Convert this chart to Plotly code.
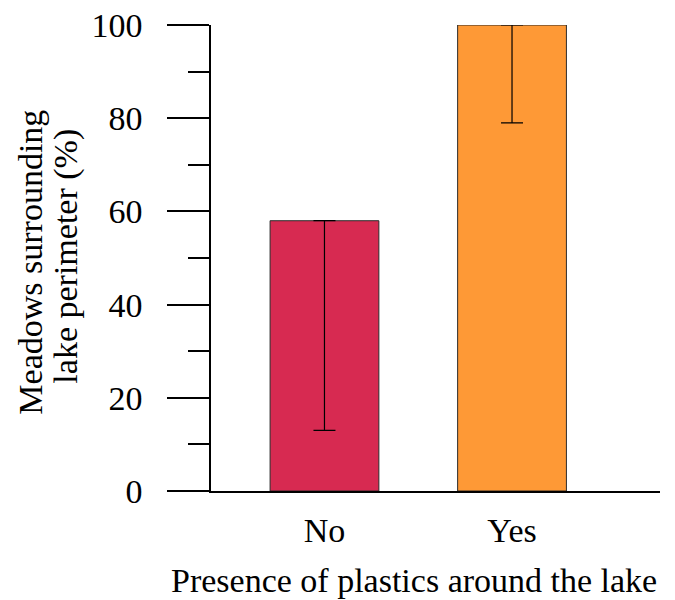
import plotly.graph_objects as go

categories = ["No", "Yes"]
values = [58, 100]
err_minus = [45, 21]
err_plus = [0, 0]
colors = ["#D72A51", "#FE9936"]
x_title = "Presence of plastics around the lake"
y_title_lines = ["Meadows surrounding", "lake perimeter (%)"]

FONT = "Liberation Serif, Times New Roman, serif"
FS = 34

fig = go.Figure()
fig.add_trace(go.Bar(
    x=categories, y=values, width=0.58,
    marker=dict(color=colors, line=dict(color="#2b2b2b", width=1)),
    error_y=dict(type="data", symmetric=False, array=err_plus, arrayminus=err_minus,
                 color="black", thickness=1.2, width=11),
))

fig.update_layout(
    width=675, height=600,
    margin=dict(l=203, r=23, t=17, b=117),
    paper_bgcolor="white", plot_bgcolor="white",
    showlegend=False,
    font=dict(family=FONT, size=FS, color="black"),
    xaxis=dict(range=[-0.605, 1.789], showline=True, linecolor="black", linewidth=1.5,
               ticks="", showgrid=False, zeroline=False, ticklabelstandoff=8,
               tickfont=dict(size=FS), automargin=False, ticklabeloverflow="allow"),
    yaxis=dict(range=[0, 100], showline=True, linecolor="black", linewidth=1.5,
               ticks="outside", ticklen=42, tickwidth=1.5, tickcolor="black",
               tickvals=[0, 20, 40, 60, 80, 100], showgrid=False, zeroline=False,
               ticklabelstandoff=18, tickfont=dict(size=FS), automargin=False,
               ticklabeloverflow="allow",
               minor=dict(tickvals=[10, 30, 50, 70, 90], ticks="outside", ticklen=21,
                          tickwidth=1.5, tickcolor="black", showgrid=False)),
    annotations=[
        dict(text=x_title, xref="paper", yref="paper", x=0.453, y=-0.191,
             showarrow=False, font=dict(size=FS), xanchor="center", yanchor="middle"),
        dict(text=y_title_lines[0], xref="paper", yref="paper", x=-0.401, y=0.492,
             textangle=-90, showarrow=False, font=dict(size=FS),
             xanchor="center", yanchor="middle"),
        dict(text=y_title_lines[1], xref="paper", yref="paper", x=-0.323, y=0.505,
             textangle=-90, showarrow=False, font=dict(size=FS),
             xanchor="center", yanchor="middle"),
    ],
)

fig.write_html("out.html")
